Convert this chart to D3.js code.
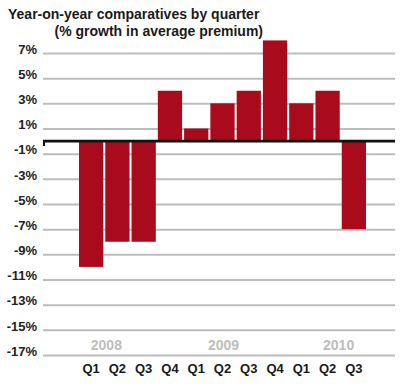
<!DOCTYPE html>
<html>
<head>
<meta charset="utf-8">
<script src="https://cdn.jsdelivr.net/npm/d3@7"></script>
<style>
  body { margin:0; background:#fff; }
  svg text { font-family:"Liberation Sans", Arial, Helvetica, sans-serif; font-weight:bold; }
</style>
</head>
<body>
<svg id="chart" width="405" height="385"></svg>
<script>
/* data */
var quarters = ["Q1","Q2","Q3","Q4","Q1","Q2","Q3","Q4","Q1","Q2","Q3"];
var growth   = [-10, -8, -8, 4, 1, 3, 4, 8, 3, 4, -7];
var yTicks   = [7, 5, 3, 1, -1, -3, -5, -7, -9, -11, -13, -15, -17];
var years    = ["2008", "2009", "2010"];
var yearAt   = [0.58, 5.04, 9.42];   // position of year label, in bar units

var svg = d3.select("#chart");

var left = 43, right = 395;

var y = d3.scaleLinear()
    .domain([-17, 7])
    .range([355, 53]);

var x = d3.scaleBand()
    .domain(d3.range(quarters.length))
    .range([79, 366])
    .paddingInner(0.077)
    .paddingOuter(0);

/* grid + tick labels */
var yAxis = d3.axisLeft(y)
    .tickValues(yTicks)
    .tickSize(-(right - left))
    .tickPadding(6)
    .tickFormat(function(d){ return d + "%"; });

var ga = svg.append("g")
    .attr("transform", "translate(" + left + ",0)")
    .call(yAxis);
ga.select(".domain").remove();
ga.selectAll(".tick line")
    .attr("stroke", "#bcbcbc")
    .attr("stroke-width", 2);
ga.selectAll(".tick text")
    .attr("fill", "#222")
    .attr("font-size", 13)
    .attr("dy", "0.32em")
    .attr("y", -4);

/* bars */
svg.append("g")
    .selectAll("rect")
    .data(growth)
    .enter()
    .append("rect")
    .attr("x", function(d, i){ return x(i); })
    .attr("width", x.bandwidth())
    .attr("y", function(d){ return y(Math.max(0, d)); })
    .attr("height", function(d){ return Math.abs(y(d) - y(0)); })
    .attr("fill", "#a90b1d");

/* zero line */
svg.append("line")
    .attr("x1", left).attr("x2", right)
    .attr("y1", y(0)).attr("y2", y(0))
    .attr("stroke", "#111")
    .attr("stroke-width", 2.6);
svg.append("line")
    .attr("x1", left + 1).attr("x2", left + 1)
    .attr("y1", y(0)).attr("y2", y(0) + 5)
    .attr("stroke", "#111")
    .attr("stroke-width", 2);

/* quarter labels */
svg.append("g")
    .selectAll("text")
    .data(quarters)
    .enter()
    .append("text")
    .attr("x", function(d, i){ return x(i) + x.bandwidth()/2; })
    .attr("y", 373)
    .attr("text-anchor", "middle")
    .attr("font-size", 13)
    .attr("fill", "#1a1a1a")
    .text(function(d){ return d; });

/* year labels */
svg.append("g")
    .selectAll("text")
    .data(years)
    .enter()
    .append("text")
    .attr("x", function(d, i){ return x(0) + x.bandwidth()/2 + yearAt[i]*x.step(); })
    .attr("y", 350)
    .attr("text-anchor", "middle")
    .attr("font-size", 14)
    .attr("fill", "#bdbdbd")
    .text(function(d){ return d; });

/* title */
svg.append("text")
    .attr("x", 8).attr("y", 19)
    .attr("font-size", 14)
    .attr("fill", "#1a1a1a")
    .text("Year-on-year comparatives by quarter");
svg.append("text")
    .attr("x", 263).attr("y", 36)
    .attr("text-anchor", "end")
    .attr("font-size", 14)
    .attr("fill", "#1a1a1a")
    .text("(% growth in average premium)");
</script>
</body>
</html>
